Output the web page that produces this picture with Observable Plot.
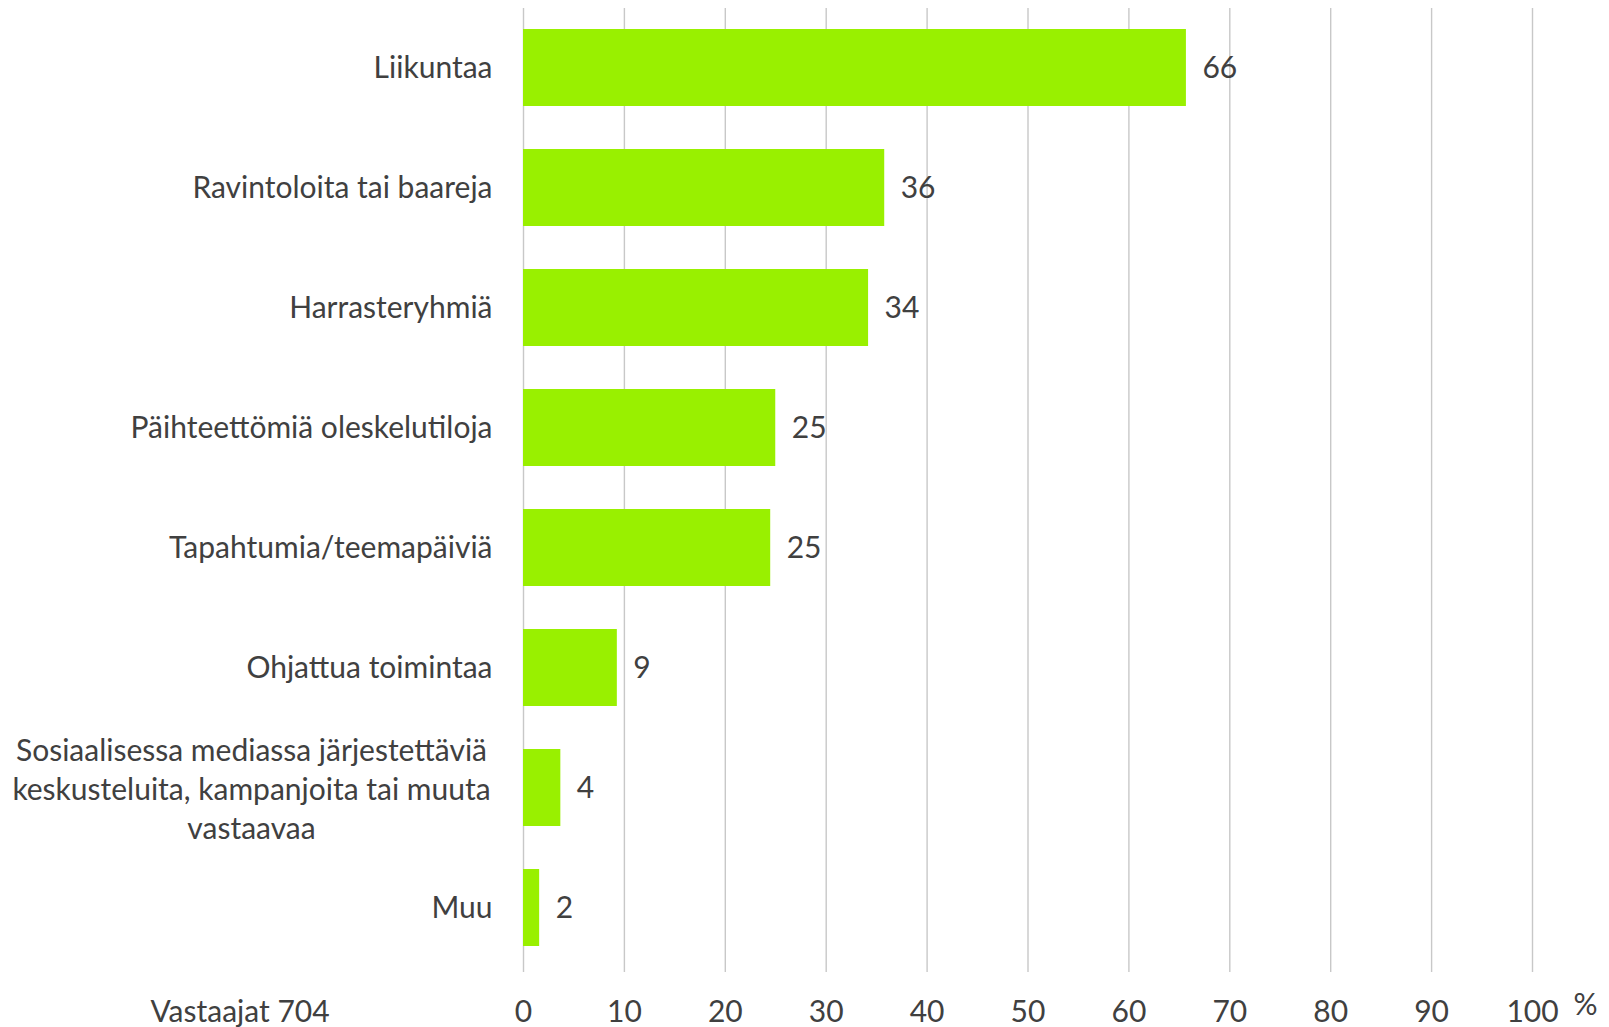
<!DOCTYPE html>
<html>
<head>
<meta charset="utf-8">
<script src="https://cdn.jsdelivr.net/npm/d3@7"></script>
<script src="https://cdn.jsdelivr.net/npm/@observablehq/plot@0.6"></script>
<style>
  html, body { margin: 0; padding: 0; background: #fff; }
  #chart svg { display: block; }
</style>
</head>
<body>
<div id="chart"></div>
<script>
const categories = [
  "Liikuntaa",
  "Ravintoloita tai baareja",
  "Harrasteryhmiä",
  "Päihteettömiä oleskelutiloja",
  "Tapahtumia/teemapäiviä",
  "Ohjattua toimintaa",
  "Sosiaalisessa mediassa järjestettäviä\nkeskusteluita, kampanjoita tai muuta\nvastaavaa",
  "Muu"
];
const values = [65.7, 35.8, 34.2, 25.0, 24.5, 9.3, 3.7, 1.6];
const valueLabels = ["66", "36", "34", "25", "25", "9", "4", "2"];
const xTicks = [0, 10, 20, 30, 40, 50, 60, 70, 80, 90, 100];
const respondentsNote = "Vastaajat 704";
const unitLabel = "%";

const data = categories.map((c, i) => ({category: c, value: values[i], label: valueLabels[i], multi: c.includes("\n")}));

const FONT = "Lato, 'Open Sans', sans-serif";
const FS = 30;
const TXT = "#404040";

const chart = Plot.plot({
  width: 1609,
  height: 1027,
  marginTop: 8,
  marginBottom: 55,
  marginLeft: 523,
  marginRight: 77,
  style: {fontFamily: FONT, fontSize: FS + "px", color: TXT, background: "#fff"},
  x: {domain: [0, 100], axis: null, label: null},
  y: {domain: categories, paddingInner: 0.36, paddingOuter: 0.18, align: 0.44, axis: null},
  marks: [
    Plot.ruleX(xTicks, {stroke: "#c8c8c8", strokeWidth: 1.4}),
    Plot.barX(data, {x: "value", y: "category", fill: "#99f000"}),
    Plot.text(data, {x: "value", y: "category", text: "label", textAnchor: "start", dx: 16, fill: TXT, fontSize: FS}),
    Plot.text(data.filter(d => !d.multi), {y: "category", text: "category", frameAnchor: "left", textAnchor: "end", dx: -31, fill: TXT, fontSize: FS}),
    Plot.text(data.filter(d => d.multi), {y: "category", text: "category", frameAnchor: "left", textAnchor: "middle", dx: -272, lineHeight: 1.3, fill: TXT, fontSize: FS}),
    Plot.axisX(xTicks, {tickSize: 0, tickPadding: 28, fontSize: FS, fill: TXT, label: null, tickFormat: d => String(d)}),
    Plot.text([respondentsNote], {frameAnchor: "bottom-left", textAnchor: "start", dx: -373, dy: 49, fill: TXT, fontSize: FS}),
    Plot.text([unitLabel], {frameAnchor: "bottom-right", textAnchor: "start", dx: 41, dy: 42, fill: TXT, fontSize: FS})
  ]
});
document.getElementById("chart").appendChild(chart);
</script>
</body>
</html>
